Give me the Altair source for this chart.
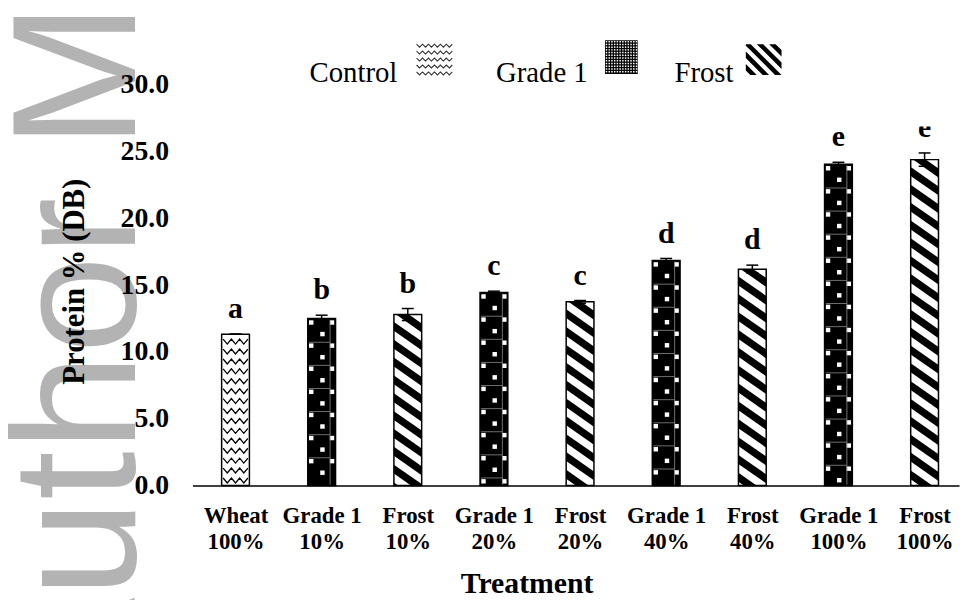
import json
import pandas as pd
import altair as alt

# ---------------- data ----------------
line1 = ["Wheat", "Grade 1", "Frost", "Grade 1", "Frost", "Grade 1", "Frost", "Grade 1", "Frost"]
line2 = ["100%", "10%", "10%", "20%", "20%", "40%", "40%", "100%", "100%"]
flour = ["Control", "Grade 1", "Frost", "Grade 1", "Frost", "Grade 1", "Frost", "Grade 1", "Frost"]
protein = [11.33, 12.5, 12.8, 14.45, 13.75, 16.85, 16.2, 24.05, 24.4]
se = [0.0, 0.25, 0.45, 0.1, 0.1, 0.15, 0.3, 0.15, 0.5]
letters = ["a", "b", "b", "c", "c", "d", "d", "e", "e"]
legend_names = ["Control", "Grade 1", "Frost"]
y_ticks = [0, 5, 10, 15, 20, 25, 30]

# ---------------- layout ----------------
W, H = 773, 404
XMIN, XMAX, YMAX = -0.5, 8.4, 30.0
PX = W / (XMAX - XMIN)   # px per x unit
PY = H / YMAX            # px per y unit
HALF = 14.0              # half bar width (px)
SERIF = "Liberation Serif"
SERIF_R = "Liberation Serif, Times New Roman, serif"


def dx(px):
    return XMIN + px / PX


def dy(py):
    return YMAX - py / PY


def bar_box(i, v):
    cx = (i - XMIN) * PX
    return cx - HALF, cx + HALF, H - v * PY, H


def stripe_rows(x0, x1, y0, y1, slope, period, thick, tag):
    rows = []
    c = y0 - slope * (x1 - x0) - thick
    k = 0
    while c < y1:
        xs = {x0, x1}
        for yy in (y0, y1):
            for off in (0.0, thick):
                xx = x0 + (yy - off - c) / slope
                if x0 < xx < x1:
                    xs.add(xx)
        pts = []
        for xx in sorted(xs):
            t = c + slope * (xx - x0)
            top = min(max(t, y0), y1)
            bot = min(max(t + thick, y0), y1)
            pts.append((xx, top, bot))
        if any(p[2] - p[1] > 1e-6 for p in pts):
            for xx, top, bot in pts:
                rows.append({"sid": f"{tag}-{k}", "x": dx(xx), "yt": dy(top), "yb": dy(bot)})
        c += period
        k += 1
    return rows


idx = list(range(len(protein)))
bars = pd.DataFrame({"i": idx, "flour": flour, "protein": protein, "se": se, "letter": letters})
bars["x0"] = bars.i - HALF / PX
bars["x1"] = bars.i + HALF / PX
bars["zero"] = 0.0
bars["lo"] = bars.protein - bars.se
bars["hi"] = bars.protein + bars.se
bars["c0"] = bars.i - 6 / PX
bars["c1"] = bars.i + 6 / PX

# ---------------- bar patterns ----------------
stripes, squares, hlines, vlines, zig = [], [], [], [], []
for i, (f, v) in enumerate(zip(flour, protein)):
    x0, x1, y0, y1 = bar_box(i, v)
    cx = (x0 + x1) / 2
    if f == "Frost":
        stripes += stripe_rows(x0, x1, y0, y1, 0.7, 18.0, 9.0, f"b{i}")
    elif f == "Grade 1":
        per = 23.3
        n = 0
        while y0 + 4 + n * per - 2.5 < y1:
            ye = y0 + 4 + n * per
            ym = ye + per / 2
            if ye + 2.5 <= y1:
                squares += [{"x": dx(cx - 10.5), "y": dy(ye)}, {"x": dx(cx + 10.5), "y": dy(ye)}]
                if n > 0:
                    hlines.append({"x": dx(x0 + 1), "x2": dx(cx + 8.5), "y": dy(ye - 3.4)})
            if ym + 2.5 <= y1:
                squares.append({"x": dx(cx + 0.8), "y": dy(ym)})
            n += 1
        vlines.append({"x": dx(cx + 8.5), "y": dy(y0 + 1), "y2": dy(y1)})
    else:
        r = 0
        yr = y0 + 5
        while yr + 5 <= y1 - 1:
            for m in range(7):
                zig.append({"row": f"z{i}-{r}", "m": m,
                            "x": dx(x0 + 1.5 + m * (x1 - x0 - 3) / 6),
                            "y": dy(yr + (m % 2) * 5)})
            r += 1
            yr += 10

# ---------------- legend (drawn, with patterns) ----------------
leg_text = pd.DataFrame({"name": legend_names,
                         "x": [dx(118), dx(306), dx(486)],
                         "y": [dy(-3)] * 3})
leg_zig = []
for r in range(5):
    yr = -41 + 7 * r
    for m in range(13):
        leg_zig.append({"row": f"lz{r}", "m": m, "x": dx(226 + 3 * m), "y": dy(yr + (m % 2) * 3)})
leg_box = pd.DataFrame({"x": [dx(416)], "x2": [dx(449)], "y": [dy(-45)], "y2": [dy(-11)]})
leg_dots = []
for a in range(12):
    for b in range(12):
        leg_dots.append({"x": dx(417.5 + 2.75 * a), "y": dy(-43.5 + 2.75 * b)})
leg_stripes = stripe_rows(558, 594, -41, -10, 1.0, 12.5, 6.5, "ls")
cover = pd.DataFrame({"x": [dx(666)], "x2": [dx(778)], "y": [dy(-75)], "y2": [dy(42)]})
wm = pd.DataFrame({"t": ["Author M"], "x": [dx(-58)], "y": [dy(-83)]})

# ---------------- scales / axes ----------------
label_expr = json.dumps([[a, b] for a, b in zip(line1, line2)]) + "[datum.value]"
XS = alt.Scale(domain=[XMIN, XMAX], nice=False, zero=False)
YS = alt.Scale(domain=[0, YMAX], nice=False, zero=False)
XA = alt.Axis(values=idx, labelExpr=label_expr, labelAngle=0, labelFont=SERIF,
              labelFontWeight="bold", labelFontSize=23, labelLineHeight=27,
              labelPadding=19, labelColor="black", labelOverlap=False, ticks=False,
              domain=True, domainColor="black", domainWidth=1.5, grid=False,
              title="Treatment", titleFont=SERIF, titleFontSize=30, titleFontWeight="bold",
              titleColor="black", titleX=337, titleY=108, titleBaseline="alphabetic",
              titleAlign="center", zindex=1)
YA = alt.Axis(values=y_ticks, format=".1f", labelFont=SERIF, labelFontWeight="bold",
              labelFontSize=28, labelPadding=24, labelColor="black", ticks=False,
              domain=False, grid=False, title="Protein % (DB)", titleFont=SERIF,
              titleFontSize=31, titleFontWeight="bold", titleColor="black", titleAngle=270,
              titleX=-119, titleY=198, titleAlign="center", titleBaseline="middle", zindex=1)


def X(f):
    return alt.X(f, type="quantitative", scale=XS, axis=XA)


def Y(f):
    return alt.Y(f, type="quantitative", scale=YS, axis=YA)


watermark = alt.Chart(wm).mark_text(font="Liberation Sans", fontSize=177, color="#b3b3b3",
                                    angle=270, align="right", baseline="alphabetic").encode(
    x=X("x"), y=Y("y"), text="t:N")

bar_fill = alt.Chart(bars).mark_rect(strokeWidth=0).encode(
    x=X("x0"), x2="x1", y=Y("zero"), y2="protein",
    fill=alt.Fill("flour:N", scale=alt.Scale(domain=legend_names, range=["white", "black", "white"]),
                  legend=None))

zig_l = alt.Chart(pd.DataFrame(zig)).mark_line(color="black", strokeWidth=1.3).encode(
    x=X("x"), y=Y("y"), detail="row:N", order="m:Q")

stripe_l = alt.Chart(pd.DataFrame(stripes)).mark_area(
    color="black", fill="black", opacity=1, fillOpacity=1, orient="vertical", interpolate="linear"
).encode(x=X("x"), y=Y("yt"), y2="yb", detail="sid:N")

sq_l = alt.Chart(pd.DataFrame(squares)).mark_square(size=20, color="white", opacity=1, filled=True).encode(
    x=X("x"), y=Y("y"))
hl_l = alt.Chart(pd.DataFrame(hlines)).mark_rule(color="#8c8c8c", strokeWidth=0.8).encode(
    x=X("x"), x2="x2", y=Y("y"))
vl_l = alt.Chart(pd.DataFrame(vlines)).mark_rule(color="#8c8c8c", strokeWidth=0.8).encode(
    x=X("x"), y=Y("y"), y2="y2")

outline = alt.Chart(bars).mark_rect(fillOpacity=0, stroke="black", strokeWidth=1.5).encode(
    x=X("x0"), x2="x1", y=Y("zero"), y2="protein")

err_v = alt.Chart(bars).mark_rule(color="black", strokeWidth=1.5).encode(x=X("i"), y=Y("lo"), y2="hi")
err_t = alt.Chart(bars).mark_rule(color="black", strokeWidth=1.5).encode(x=X("c0"), x2="c1", y=Y("hi"))
err_b = alt.Chart(bars).mark_rule(color="black", strokeWidth=1.5).encode(x=X("c0"), x2="c1", y=Y("lo"))

lett = alt.Chart(bars).mark_text(font=SERIF, fontWeight="bold", fontSize=30, dy=-16,
                                 baseline="alphabetic", color="black").encode(
    x=X("i"), y=Y("hi"), text="letter:N")

cover_l = alt.Chart(cover).mark_rect(color="white").encode(x=X("x"), x2="x2", y=Y("y"), y2="y2")

leg_t = alt.Chart(leg_text).mark_text(font=SERIF_R, fontSize=29, align="left",
                                      baseline="alphabetic", color="black").encode(
    x=X("x"), y=Y("y"), text="name:N")
leg_z = alt.Chart(pd.DataFrame(leg_zig)).mark_line(color="#333333", strokeWidth=1.1).encode(
    x=X("x"), y=Y("y"), detail="row:N", order="m:Q")
leg_b = alt.Chart(leg_box).mark_rect(color="black").encode(x=X("x"), x2="x2", y=Y("y"), y2="y2")
leg_d = alt.Chart(pd.DataFrame(leg_dots)).mark_square(size=2.2, color="white", opacity=1, filled=True).encode(
    x=X("x"), y=Y("y"))
leg_s = alt.Chart(pd.DataFrame(leg_stripes)).mark_area(
    color="black", fill="black", opacity=1, fillOpacity=1, orient="vertical", interpolate="linear"
).encode(x=X("x"), y=Y("yt"), y2="yb", detail="sid:N")

chart = alt.layer(
    watermark, bar_fill, zig_l, stripe_l, sq_l, hl_l, vl_l, outline,
    err_v, err_t, err_b, lett, cover_l, leg_t, leg_z, leg_b, leg_d, leg_s
).properties(
    width=W, height=H,
    padding={"left": 186, "top": 75, "right": 5, "bottom": 113},
    autosize=alt.AutoSizeParams(type="none"),
    background="white",
).configure_view(stroke=None)

chart.save("out.html", embed_options={"renderer": "svg", "actions": False})
